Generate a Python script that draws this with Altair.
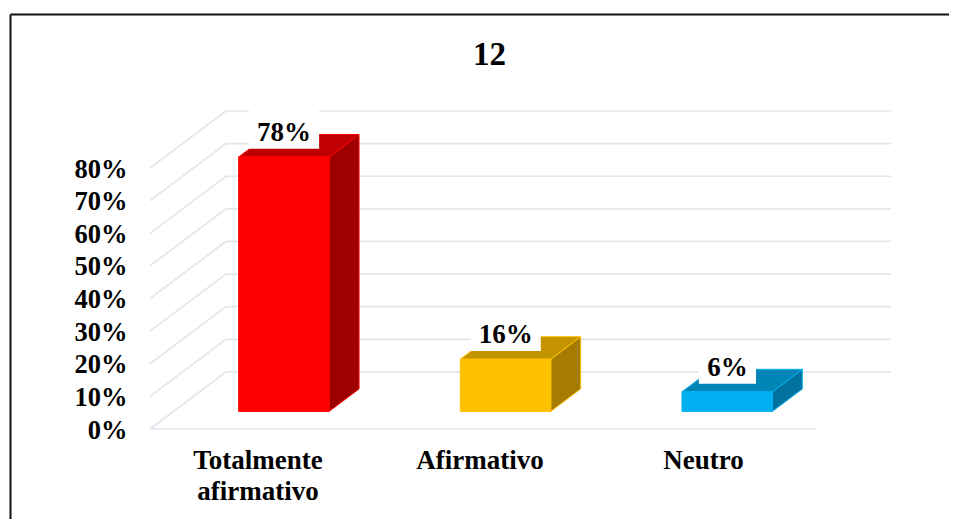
import altair as alt
import pandas as pd

title_text = "12"
categories = ["Totalmente afirmativo", "Afirmativo", "Neutro"]
category_lines = [["Totalmente", "afirmativo"], ["Afirmativo"], ["Neutro"]]
values = [78, 16, 6]
labels = ["78%", "16%", "6%"]
front_colors = ["#FF0000", "#FFC000", "#00B0F0"]
top_colors = ["#C00000", "#C49400", "#0085B6"]
side_colors = ["#9E0000", "#A67C00", "#0072A0"]
y_ticks = [0, 10, 20, 30, 40, 50, 60, 70, 80]

FONT = "Liberation Serif"
GRID = "#E3E6EC"
W, H = 741, 318
SLOTS = 3
WALL_X, WALL_Y = 0.343, 17.5      # oblique offset of the back wall
BAR_X, BAR_Y = 0.135, 6.9         # oblique depth of each bar
BASE_Y = 5.4                      # bar's floor offset
X0, X1 = 0.40, 0.808

grid_rows, top_rows, side_rows, front_rows, box_rows, text_rows = [], [], [], [], [], []
for v in y_ticks:
    pts = [(0, v), (WALL_X, v + WALL_Y), (SLOTS + WALL_X, v + WALL_Y)]
    for n, (x, y) in enumerate(pts):
        grid_rows.append(dict(level=v, n=n, x=x, y=y))
for n, x in enumerate([0, SLOTS]):
    grid_rows.append(dict(level=-1, n=n, x=x, y=0))

for i, (cat, v, lab) in enumerate(zip(categories, values, labels)):
    a, b = i + X0, i + X1
    base, top = BASE_Y, BASE_Y + v
    front_rows.append(dict(cat=cat, x=a, x2=b, y=base, y2=top, paint=front_colors[i], edge=front_colors[i]))
    for x, lo, hi in [
        (a, top, top), (a + BAR_X, top, top + BAR_Y),
        (b, top, top + BAR_Y), (b + BAR_X, top + BAR_Y, top + BAR_Y)]:
        top_rows.append(dict(cat=cat, x=x, y=lo, y2=hi, paint=top_colors[i], edge=front_colors[i]))
    for x, lo, hi in [(b, base, top), (b + BAR_X, base + BAR_Y, top + BAR_Y)]:
        side_rows.append(dict(cat=cat, x=x, y=lo, y2=hi, paint=side_colors[i], edge=front_colors[i]))
    cx = i + 0.605
    half = 0.158 if len(lab) > 2 else 0.129
    box_rows.append(dict(cat=cat, x=cx - half, x2=cx + half, y=v + 7.9, y2=v + 19.9))
    text_rows.append(dict(cat=cat, x=cx, y=v + 12.8, label=lab))

x_scale = alt.Scale(domain=[0, SLOTS + WALL_X], nice=False, zero=False)
y_scale = alt.Scale(domain=[0, 80 + WALL_Y], nice=False, zero=False)

expr = "datum.value < 1 ? {} : datum.value < 2 ? {} : {}".format(*category_lines)

x_axis = alt.Axis(values=[0.485, 1.487, 2.495], labelExpr=expr, title=None, domain=False, ticks=False,
                  grid=False, labelFont=FONT, labelFontWeight="bold", labelFontSize=27,
                  labelColor="black", labelPadding=18, labelLineHeight=31, labelOverlap=False,
                  labelAngle=0)
y_axis = alt.Axis(values=y_ticks, labelExpr="datum.value + '%'", title=None, domain=False, ticks=False,
                  grid=False, labelFont=FONT, labelFontWeight="bold", labelFontSize=26.5,
                  labelColor="black", labelPadding=23, labelOverlap=False, labelOffset=1)

X = alt.X("x:Q", scale=x_scale, axis=x_axis)
Y = alt.Y("y:Q", scale=y_scale, axis=y_axis)

grid = alt.Chart(pd.DataFrame(grid_rows)).mark_line(color=GRID, strokeWidth=1.7, interpolate="linear").encode(
    x=X, y=Y, detail="level:N", order="n:Q")

def face(rows):
    return alt.Chart(pd.DataFrame(rows)).mark_area(strokeWidth=1, interpolate="linear", orient="vertical").encode(
        x=X, y=Y, y2="y2:Q", detail="cat:N",
        fill=alt.Fill("paint:N", scale=None), stroke=alt.Stroke("edge:N", scale=None))

front = alt.Chart(pd.DataFrame(front_rows)).mark_rect(strokeWidth=1).encode(
    x=X, x2="x2:Q", y=Y, y2="y2:Q",
    fill=alt.Fill("paint:N", scale=None), stroke=alt.Stroke("edge:N", scale=None))

box = alt.Chart(pd.DataFrame(box_rows)).mark_rect(color="white", cornerRadius=0).encode(x=X, x2="x2:Q", y=Y, y2="y2:Q")

text = alt.Chart(pd.DataFrame(text_rows)).mark_text(
    font=FONT, fontWeight="bold", fontSize=27, color="black", baseline="middle").encode(
    x=X, y=Y, text="label:N")

frame_top = alt.Chart(pd.DataFrame({"k": [0]})).mark_rule(color="#111111", strokeWidth=2).encode(
    x=alt.value(-139.5), x2=alt.value(810), y=alt.value(-96.5))
frame_left = alt.Chart(pd.DataFrame({"k": [0]})).mark_rule(color="#111111", strokeWidth=2).encode(
    x=alt.value(-139.5), y=alt.value(-96.5), y2=alt.value(420))

chart = alt.layer(grid, face(side_rows), face(top_rows), front, box, text, frame_top, frame_left).properties(
    width=W, height=H,
    title=alt.TitleParams(title_text, font=FONT, fontWeight="bold", fontSize=33, color="black",
                          anchor="middle", frame="group", dx=-31, offset=-91, baseline="bottom"),
    autosize=alt.AutoSizeParams(type="none"),
    padding={"left": 142, "top": 103, "right": 58, "bottom": 90},
    background="white",
).configure_view(stroke=None)

chart.save("out.html", embed_options={"renderer": "svg", "actions": False})
